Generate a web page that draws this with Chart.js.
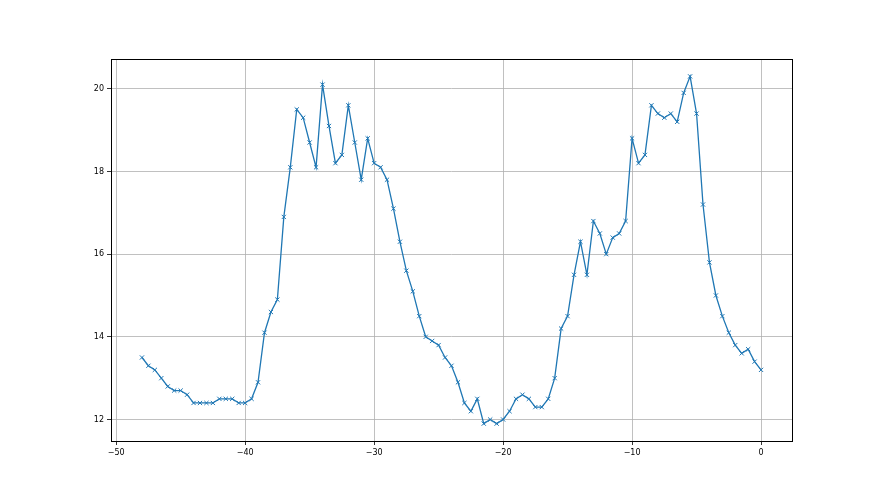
<!DOCTYPE html>
<html>
<head>
<meta charset="utf-8">
<script src="https://cdn.jsdelivr.net/npm/chart.js@4/dist/chart.umd.min.js"></script>
<style>
  html, body { margin: 0; padding: 0; background: #fff; }
  #wrap { width: 880px; height: 495px; position: relative; }
</style>
</head>
<body>
<div id="wrap"><canvas id="lineChart"></canvas></div>
<script>
// x positions: -48 .. 0 in steps of 0.5
const xValues = [
    -48, -47.5, -47, -46.5, -46, -45.5, -45, -44.5, -44, -43.5,
    -43, -42.5, -42, -41.5, -41, -40.5, -40, -39.5, -39, -38.5,
    -38, -37.5, -37, -36.5, -36, -35.5, -35, -34.5, -34, -33.5,
    -33, -32.5, -32, -31.5, -31, -30.5, -30, -29.5, -29, -28.5,
    -28, -27.5, -27, -26.5, -26, -25.5, -25, -24.5, -24, -23.5,
    -23, -22.5, -22, -21.5, -21, -20.5, -20, -19.5, -19, -18.5,
    -18, -17.5, -17, -16.5, -16, -15.5, -15, -14.5, -14, -13.5,
    -13, -12.5, -12, -11.5, -11, -10.5, -10, -9.5, -9, -8.5,
    -8, -7.5, -7, -6.5, -6, -5.5, -5, -4.5, -4, -3.5,
    -3, -2.5, -2, -1.5, -1, -0.5, 0
];

const yValues = [
    13.5, 13.3, 13.2, 13.0, 12.8, 12.7, 12.7, 12.6, 12.4, 12.4,
    12.4, 12.4, 12.5, 12.5, 12.5, 12.4, 12.4, 12.5, 12.9, 14.1,
    14.6, 14.9, 16.9, 18.1, 19.5, 19.3, 18.7, 18.1, 20.1, 19.1,
    18.2, 18.4, 19.6, 18.7, 17.8, 18.8, 18.2, 18.1, 17.8, 17.1,
    16.3, 15.6, 15.1, 14.5, 14.0, 13.9, 13.8, 13.5, 13.3, 12.9,
    12.4, 12.2, 12.5, 11.9, 12.0, 11.9, 12.0, 12.2, 12.5, 12.6,
    12.5, 12.3, 12.3, 12.5, 13.0, 14.2, 14.5, 15.5, 16.3, 15.5,
    16.8, 16.5, 16.0, 16.4, 16.5, 16.8, 18.8, 18.2, 18.4, 19.6,
    19.4, 19.3, 19.4, 19.2, 19.9, 20.3, 19.4, 17.2, 15.8, 15.0,
    14.5, 14.1, 13.8, 13.6, 13.7, 13.4, 13.2
];

const xTicks = [-50, -40, -30, -20, -10, 0];
const yTicks = [12, 14, 16, 18, 20];

const points = xValues.map((x, i) => ({ x: x, y: yValues[i] }));

// matplotlib-style minus sign on tick labels
function fmt(v) {
    return v < 0 ? '\u2212' + Math.abs(v) : String(v);
}

// draw the full box around the axes (top and right spines too)
const frame = {
    id: 'frame',
    afterDraw(chart) {
        const a = chart.chartArea;
        const c = chart.ctx;
        c.save();
        c.strokeStyle = '#000';
        c.lineWidth = 1;
        c.strokeRect(Math.round(a.left) + 0.5, Math.round(a.top) + 0.5,
            Math.round(a.right - a.left), Math.round(a.bottom - a.top));
        c.restore();
    }
};

const ctx = document.getElementById('lineChart').getContext('2d');
new Chart(ctx, {
    type: 'scatter',
    data: {
        datasets: [{
            data: points,
            showLine: true,
            borderColor: '#1f77b4',
            borderWidth: 1.3,
            backgroundColor: '#1f77b4',
            pointStyle: 'crossRot',
            pointRadius: 3,
            pointBorderWidth: 1,
            pointBorderColor: '#1f77b4',
            tension: 0
        }]
    },
    options: {
        responsive: true,
        maintainAspectRatio: false,
        animation: false,
        layout: { padding: { left: 71, right: 88, top: 59, bottom: 24 } },
        plugins: {
            legend: { display: false },
            tooltip: { enabled: false }
        },
        scales: {
            x: {
                type: 'linear',
                min: -50.4,
                max: 2.4,
                afterBuildTicks: s => { s.ticks = xTicks.map(v => ({ value: v })); },
                afterFit: s => { s.height = 30; },
                grid: { color: '#b0b0b0', tickColor: '#000', tickLength: 4, lineWidth: 0.8 },
                border: { display: false },
                ticks: {
                    color: '#000',
                    font: { family: 'DejaVu Sans', size: 8 },
                    padding: 3,
                    maxRotation: 0,
                    callback: v => fmt(v)
                }
            },
            y: {
                min: 11.48,
                max: 20.72,
                afterBuildTicks: s => { s.ticks = yTicks.map(v => ({ value: v })); },
                afterFit: s => { s.width = 40; },
                grid: { color: '#b0b0b0', tickColor: '#000', tickLength: 4, lineWidth: 0.8 },
                border: { display: false },
                ticks: {
                    color: '#000',
                    font: { family: 'DejaVu Sans', size: 8 },
                    padding: 3,
                    callback: v => fmt(v)
                }
            }
        }
    },
    plugins: [frame]
});
</script>
</body>
</html>
